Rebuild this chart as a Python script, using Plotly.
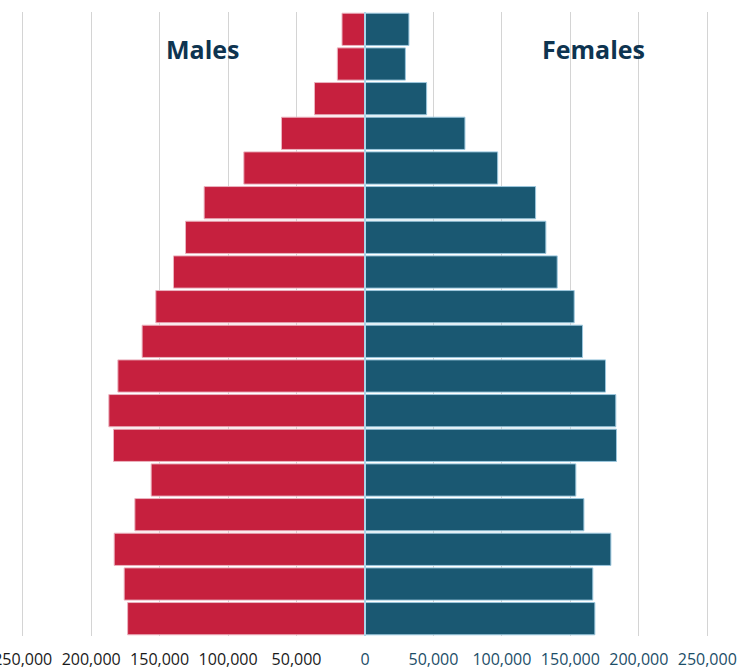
import plotly.graph_objects as go

age_groups = ["0-4", "5-9", "10-14", "15-19", "20-24", "25-29", "30-34", "35-39",
              "40-44", "45-49", "50-54", "55-59", "60-64", "65-69", "70-74",
              "75-79", "80-84", "85+"]
# listed bottom (0-4) to top (85+)
males = [173400, 175900, 183200, 168100, 156200, 183700, 187100, 180500, 162800,
         152800, 139900, 131100, 117500, 88500, 61000, 36900, 20200, 16800]
females = [167900, 166400, 179600, 159900, 154000, 183700, 183200, 175700, 158900,
           152800, 140400, 132100, 124600, 96900, 73000, 45000, 29500, 32100]

tick_vals = [-250000, -200000, -150000, -100000, -50000, 0, 50000, 100000, 150000, 200000, 250000]
tick_text = ["250,000", "200,000", "150,000", "100,000", "50,000", "0",
             "50,000", "100,000", "150,000", "200,000", "250,000"]

RED = "#C6203E"
TEAL = "#1A5872"
LEFT_LABEL = "#1a1a1a"
RIGHT_LABEL = "#1C4E68"

ticktext_colored = []
for v, t in zip(tick_vals, tick_text):
    col = LEFT_LABEL if v < 0 else RIGHT_LABEL
    ticktext_colored.append(f"<span style='color:{col}'>{t}</span>")

fig = go.Figure()
fig.add_trace(go.Bar(
    y=age_groups, x=[-m for m in males], orientation="h", name="Males",
    marker=dict(color=RED, line=dict(color="#EBB3BF", width=1)),
))
fig.add_trace(go.Bar(
    y=age_groups, x=females, orientation="h", name="Females",
    marker=dict(color=TEAL, line=dict(color="#9CC7DD", width=1)),
))

# light-blue zero divider drawn above the bars
fig.add_shape(type="line", xref="x", yref="paper", x0=0, x1=0, y0=0, y1=1,
              line=dict(color="#A9D4EA", width=2), layer="above")

fig.add_annotation(x=-118500, y=0.94, xref="x", yref="paper", text="<b>Males</b>",
                   showarrow=False, yanchor="middle",
                   font=dict(size=25, color="#0E3450", family="Open Sans"))
fig.add_annotation(x=167000, y=0.94, xref="x", yref="paper", text="<b>Females</b>",
                   showarrow=False, yanchor="middle",
                   font=dict(size=25, color="#0E3450", family="Open Sans"))

fig.update_layout(
    width=754, height=669,
    margin=dict(l=20, r=44, t=12, b=33, autoexpand=False),
    barmode="relative", bargap=0.07,
    showlegend=False,
    plot_bgcolor="white", paper_bgcolor="white",
    font=dict(family="Open Sans", size=16, color=LEFT_LABEL),
    xaxis=dict(range=[-252000, 252000], tickvals=tick_vals, ticktext=ticktext_colored,
               showgrid=True, gridcolor="#D4D4D4", gridwidth=1, zeroline=False,
               showline=False, ticklabelstandoff=12, ticklabeloverflow="allow",
               automargin=False, fixedrange=True),
    yaxis=dict(showticklabels=False, showgrid=False, zeroline=False, showline=False,
               automargin=False, fixedrange=True,
               categoryorder="array", categoryarray=age_groups),
)

fig.write_html("out.html", config={"displayModeBar": False},
               post_script="document.body.style.margin='0';document.body.style.overflow='hidden';")
